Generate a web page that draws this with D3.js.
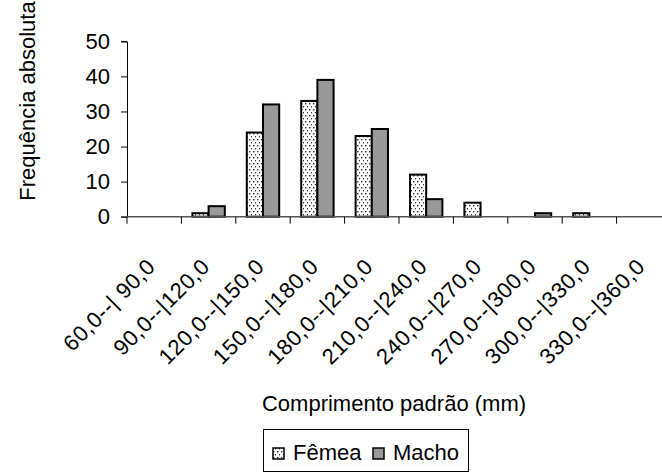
<!DOCTYPE html>
<html><head><meta charset="utf-8">
<script src="https://cdn.jsdelivr.net/npm/d3@7"></script>
<style>
body{margin:0;background:#fff;}
text{font-family:"Liberation Sans",Arial,sans-serif;fill:#000;}
</style></head>
<body><svg id="c" width="662" height="475"></svg>
<script>
const categories = ["60,0--| 90,0","90,0--|120,0","120,0--|150,0","150,0--|180,0","180,0--|210,0","210,0--|240,0","240,0--|270,0","270,0--|300,0","300,0--|330,0","330,0--|360,0"];
const seriesNames = ["Fêmea","Macho"];
const femea = [0,1,24,33,23,12,4,0,1,0];
const macho = [0,3,32,39,25,5,0,1,0,0];
const yTicks = [0,10,20,30,40,50];

const svg = d3.select("#c");
const defs = svg.append("defs");
const pat = defs.append("pattern").attr("id","dots").attr("patternUnits","userSpaceOnUse")
  .attr("width",4).attr("height",6);
pat.append("rect").attr("width",4).attr("height",6).attr("fill","#fff");
pat.append("rect").attr("x",1).attr("y",1).attr("width",1.4).attr("height",1.4).attr("fill","#333");
pat.append("rect").attr("x",3).attr("y",4).attr("width",1.4).attr("height",1.4).attr("fill","#333");

const x0 = d3.scaleBand().domain(categories).range([127,671]).paddingInner(0).paddingOuter(0);
const x1 = d3.scaleBand().domain(seriesNames).range([0,x0.bandwidth()]).paddingInner(0).paddingOuter(0.68);
const y = d3.scaleLinear().domain([0,50]).range([216.7,41.3]);
const fills = {"Fêmea":"url(#dots)","Macho":"#999999"};
const data = categories.map((c,i)=>({cat:c, vals:[{s:"Fêmea",v:femea[i]},{s:"Macho",v:macho[i]}]}));

// y axis
const ya = svg.append("g").attr("transform","translate(127,0)")
  .call(d3.axisLeft(y).tickValues(yTicks).tickSize(6).tickPadding(11).tickFormat(d3.format("d")));
ya.select(".domain").attr("stroke","#000").attr("stroke-width",1);
ya.selectAll(".tick line").attr("stroke","#000");
ya.selectAll("text").attr("font-size",22).style("font-family","Liberation Sans, Arial");

// bars
const g = svg.append("g");
data.forEach(d=>{
  d.vals.forEach(o=>{
    if(o.v<=0) return;
    g.append("rect")
      .attr("x",x0(d.cat)+x1(o.s)).attr("y",y(o.v))
      .attr("width",x1.bandwidth()).attr("height",y(0)-y(o.v))
      .attr("fill",fills[o.s]).attr("stroke","#000").attr("stroke-width",2);
  });
});

// x axis
const xa = svg.append("g");
xa.append("line").attr("x1",121).attr("x2",671).attr("y1",y(0)).attr("y2",y(0)).attr("stroke","#555").attr("stroke-width",1.5);
categories.forEach(c=>{
  xa.append("line").attr("x1",x0(c)).attr("x2",x0(c)).attr("y1",y(0)).attr("y2",y(0)+7).attr("stroke","#000");
});
categories.forEach(c=>{
  const cx = x0(c)+x0.bandwidth()/2+2.5;
  xa.append("text").attr("transform",`translate(${cx},268) rotate(-45)`)
    .attr("text-anchor","end").attr("font-size",22).attr("letter-spacing",0.6).text(c);
});

// axis titles
svg.append("text").attr("x",394).attr("y",411).attr("text-anchor","middle").attr("font-size",22).text("Comprimento padrão (mm)");
svg.append("text").attr("transform","translate(35,101) rotate(-90)").attr("text-anchor","middle")
  .attr("font-size",22).text("Frequência absoluta");

// legend
const lg = svg.append("g");
lg.append("rect").attr("x",263.5).attr("y",429.5).attr("width",205).attr("height",42).attr("fill","#fff").attr("stroke","#000");
seriesNames.forEach((s,i)=>{
  const lx = [273,373][i];
  lg.append("rect").attr("x",lx).attr("y",448).attr("width",11).attr("height",11).attr("fill",fills[s]).attr("stroke","#000").attr("stroke-width",1.5);
  lg.append("text").attr("x",lx+20).attr("y",460).attr("font-size",22).text(s);
});
</script></body></html>
